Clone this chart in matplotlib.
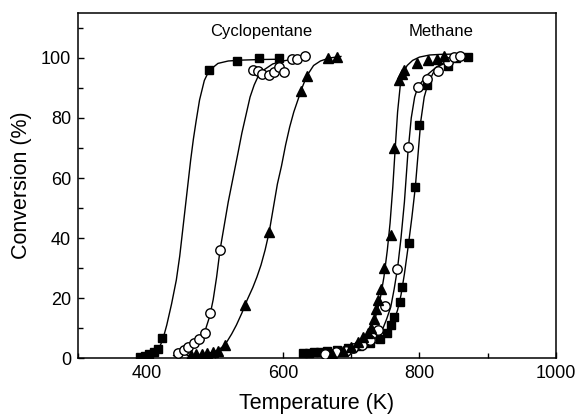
"""Light-off curves for cyclopentane and methane conversion vs temperature."""

import matplotlib
matplotlib.use("Agg")
import matplotlib.pyplot as plt
from matplotlib.ticker import MultipleLocator

plt.rcParams["font.family"] = ["Liberation Sans", "DejaVu Sans"]

# Cyclopentane, measured points
cp_sq_t = [391, 398, 404, 411, 417, 423, 492, 533, 565, 594]
cp_sq_c = [0.4, 0.7, 1.3, 2.1, 3.0, 6.6, 96, 99, 100, 100]
cp_ci_t = [447, 455, 461, 470, 477, 486, 493, 508, 557, 563, 570, 579, 587, 594, 601, 614, 620, 632]
cp_ci_c = [1.8, 2.7, 3.8, 4.9, 6.3, 8.2, 14.9, 36, 96.1, 95.6, 94.8, 94.2, 95.3, 97, 95.3, 99.8, 99.8, 100.5]
cp_tr_t = [465, 473, 481, 489, 497, 505, 515, 544, 580, 627, 635, 666, 679]
cp_tr_c = [1.0, 1.2, 1.5, 1.8, 2.0, 2.5, 4.5, 17.7, 42, 89, 94, 100, 100.4]

# Methane, measured points
me_sq_t = [630, 638, 646, 655, 665, 680, 695, 712, 728, 742, 752, 758, 763, 771, 775, 784, 794, 800, 811, 842, 854, 871]
me_sq_c = [1.8, 1.8, 1.9, 2.0, 2.3, 2.7, 3.3, 4.0, 5.0, 6.5, 8.5, 11, 13.8, 18.8, 23.6, 38.4, 57, 77.5, 91, 97.3, 99.9, 100.4]
me_ci_t = [662, 678, 692, 703, 716, 727, 740, 750, 767, 783, 798, 811, 827, 842, 850, 859]
me_ci_c = [1.5, 2.0, 2.5, 3.2, 4.5, 6.0, 9.3, 17.3, 29.6, 70.2, 90.4, 92.9, 95.8, 98.8, 100.2, 100.6]
me_tr_t = [672, 688, 700, 710, 718, 724, 729, 733, 736, 740, 744, 748, 759, 763, 770, 774, 778, 796, 813, 826, 836]
me_tr_c = [1.5, 2.5, 3.7, 5.5, 7, 8.5, 10, 13, 16.5, 19.5, 23, 30, 41, 70, 92.5, 94.5, 96, 98.2, 99.3, 99.8, 100.8]

# Fitted curves
cp_sq_fit_t = [388, 400, 410, 418, 424, 430, 437, 444, 449, 453, 457, 461, 465, 469, 473, 478, 485, 492, 505, 520, 540, 570, 600]
cp_sq_fit_c = [0.2, 0.5, 1.3, 3, 6, 11, 18, 26, 34, 42, 50, 58, 66, 73, 79, 86, 92.5, 95.8, 98.2, 99, 99.3, 99.5, 99.6]
cp_ci_fit_t = [440, 450, 460, 470, 478, 486, 493, 498, 503, 508, 514, 520, 527, 534, 540, 546, 552, 558, 564, 572, 585, 600, 620, 635]
cp_ci_fit_c = [0.8, 1.5, 2.6, 4.3, 6.3, 9, 14, 19.5, 27, 36, 44, 52, 60, 68, 75, 81, 87, 91, 94, 96, 98, 99, 99.8, 100]
cp_tr_fit_t = [460, 480, 495, 505, 512, 518, 525, 532, 540, 548, 556, 562, 568, 574, 580, 586, 592, 598, 604, 610, 616, 622, 628, 635, 645, 655, 668, 685]
cp_tr_fit_c = [0.8, 1.2, 1.8, 2.6, 3.8, 5.4, 8, 11, 15, 19.5, 23.5, 27, 31, 36, 42, 50, 58, 64, 71, 77, 82, 86, 90, 94, 97.5, 99, 100, 100.5]

me_sq_fit_t = [625, 650, 680, 710, 730, 745, 755, 762, 768, 773, 778, 784, 789, 794, 798, 802, 807, 812, 820, 830, 845, 860, 875]
me_sq_fit_c = [1.5, 2, 2.7, 3.5, 4.5, 6, 8.5, 12, 16, 21, 28, 38, 47, 57, 68, 79, 87, 91, 95, 97.5, 99, 100, 100.6]
me_ci_fit_t = [640, 670, 700, 720, 735, 745, 752, 758, 763, 768, 773, 778, 783, 788, 793, 798, 805, 812, 825, 840, 855, 870]
me_ci_fit_c = [1.5, 2, 3, 4.5, 6.5, 9, 13, 17, 23, 30, 40, 52, 68, 80, 87, 90.5, 92.5, 94.5, 97, 99, 100, 100.5]
me_tr_fit_t = [650, 680, 700, 715, 725, 735, 742, 748, 753, 757, 761, 764, 768, 772, 776, 782, 790, 800, 815, 830, 850]
me_tr_fit_c = [1.5, 2.5, 4, 6, 8.5, 13, 19, 27, 36, 45, 57, 68, 82, 91, 95, 97.5, 99.2, 100.3, 101, 101.2, 101.3]


def main():
    fig = plt.figure(figsize=(5.76, 4.15), dpi=100)
    ax = fig.add_axes([0.1354, 0.1373, 0.8299, 0.8314])

    for t, c in [(cp_sq_fit_t, cp_sq_fit_c), (cp_ci_fit_t, cp_ci_fit_c), (cp_tr_fit_t, cp_tr_fit_c),
                 (me_sq_fit_t, me_sq_fit_c), (me_ci_fit_t, me_ci_fit_c), (me_tr_fit_t, me_tr_fit_c)]:
        ax.plot(t, c, color="black", lw=1.0, zorder=2)

    sq = dict(marker="s", ms=6.2, mfc="black", mec="black", ls="none", zorder=3)
    ci = dict(marker="o", ms=6.8, mfc="white", mec="black", mew=1.0, ls="none", zorder=3)
    tr = dict(marker="^", ms=7.5, mfc="black", mec="black", ls="none", zorder=3)
    ax.plot(cp_sq_t, cp_sq_c, **sq)
    ax.plot(me_sq_t, me_sq_c, **sq)
    ax.plot(cp_ci_t, cp_ci_c, **ci)
    ax.plot(me_ci_t, me_ci_c, **ci)
    ax.plot(cp_tr_t, cp_tr_c, **tr)
    ax.plot(me_tr_t, me_tr_c, **tr)

    ax.text(568, 108.7, "Cyclopentane", ha="center", va="center", fontsize=12)
    ax.text(831, 108.7, "Methane", ha="center", va="center", fontsize=12)

    ax.set_xlim(300, 1000)
    ax.set_ylim(0, 115)
    ax.xaxis.set_major_locator(MultipleLocator(200))
    ax.xaxis.set_minor_locator(MultipleLocator(100))
    ax.yaxis.set_major_locator(MultipleLocator(20))
    ax.yaxis.set_minor_locator(MultipleLocator(10))
    ax.set_xticks([400, 600, 800, 1000])
    ax.set_yticks([0, 20, 40, 60, 80, 100])
    ax.tick_params(which="both", direction="in", top=False, right=False, width=1.0)
    ax.tick_params(which="major", length=4.5, labelsize=13, pad=5)
    ax.tick_params(which="minor", length=3.5)
    for s in ax.spines.values():
        s.set_linewidth(1.1)

    ax.set_xlabel("Temperature (K)", fontsize=15.5, labelpad=8)
    ax.set_ylabel("Conversion (%)", fontsize=15.5, labelpad=6)

    fig.savefig("out.png", dpi=100)
    plt.close(fig)


if __name__ == "__main__":
    main()
